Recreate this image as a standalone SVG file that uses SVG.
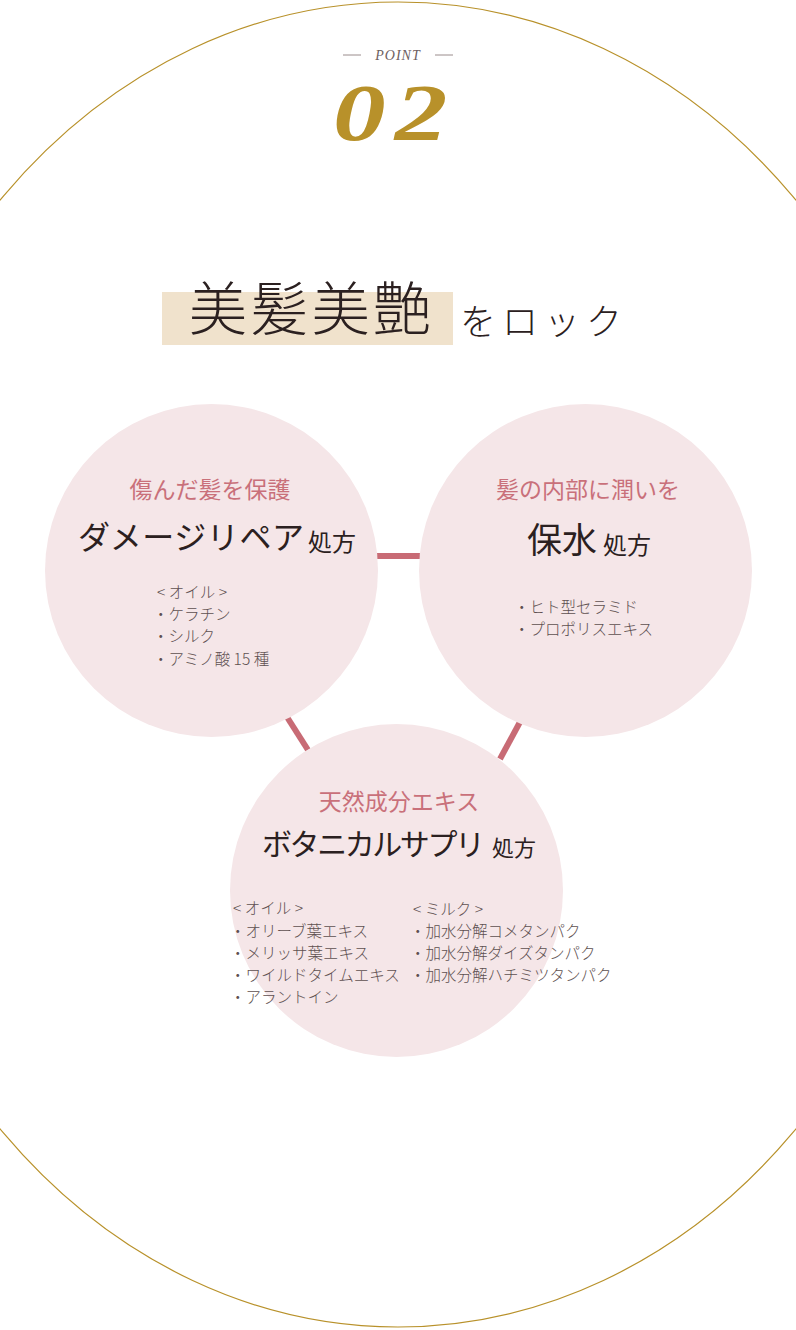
<svg xmlns="http://www.w3.org/2000/svg" width="796" height="1330" viewBox="0 0 796 1330">
<style>
.jp{font-family:"Noto Sans CJK JP","Noto Sans",sans-serif}
.sub{font-size:23px;fill:#c9707a;text-anchor:middle}
.main{fill:#2b2020}
.li{font-size:15.5px;fill:#5e5050;font-weight:300}
.circ{fill:#f5e6e8}
.con{stroke:#c86b75;stroke-width:6;fill:none}
</style>
<rect width="796" height="1330" fill="#ffffff"/>
<g id="frame">
<ellipse cx="398" cy="664.5" rx="558" ry="662.5" fill="none" stroke="#b8912a" stroke-width="1.2"/>
</g>
<g id="header">
<line x1="343" y1="55" x2="361" y2="55" stroke="#9a8c8c" stroke-width="1"/>
<line x1="435" y1="55" x2="453" y2="55" stroke="#9a8c8c" stroke-width="1"/>
<text x="398" y="60" text-anchor="middle" font-family="Liberation Serif,serif" font-style="italic" font-size="14" letter-spacing="1" fill="#6e6060">POINT</text>
<text transform="translate(333 140) scale(1.3 1)" x="0" y="0" font-family="Liberation Serif,serif" font-style="italic" font-weight="bold" font-size="81" letter-spacing="7" fill="#b8912a">02</text>
</g>
<g id="title">
<rect x="162" y="292" width="291" height="53" fill="#f0e2cc"/>
<text x="189" y="330" class="jp" font-size="58" font-weight="300" fill="#2b2020" textLength="242" lengthAdjust="spacing">美髪美艶</text>
<text x="460" y="335" class="jp" font-size="36" font-weight="300" fill="#2b2020" textLength="162" lengthAdjust="spacing">をロック</text>
</g>
<g id="connectors">
<line class="con" x1="376" y1="556" x2="423" y2="556"/>
<line class="con" x1="287" y1="717" x2="308" y2="750"/>
<line class="con" x1="520" y1="722" x2="500" y2="759"/>
</g>
<g id="node-damage">
<circle class="circ" cx="211.5" cy="570.5" r="166.5"/>
<text class="jp sub" x="210" y="498">傷んだ髪を保護</text>
<text class="jp main" x="78" y="549" font-size="32" textLength="226" lengthAdjust="spacing">ダメージリペア</text>
<text class="jp main" x="308" y="551" font-size="24">処方</text>
<text class="jp li" x="157" y="598">&lt;  オイル  &gt;</text>
<text class="jp li" x="153" y="620">・ケラチン</text>
<text class="jp li" x="153" y="642">・シルク</text>
<text class="jp li" x="153" y="665">・アミノ酸 15 種</text>
</g>
<g id="node-moist">
<circle class="circ" cx="585.5" cy="570.5" r="166.5"/>
<text class="jp sub" x="588" y="498">髪の内部に潤いを</text>
<text class="jp main" x="527" y="553" font-size="35">保水</text>
<text class="jp main" x="603" y="554" font-size="24">処方</text>
<text class="jp li" x="514" y="613">・ヒト型セラミド</text>
<text class="jp li" x="514" y="635">・プロポリスエキス</text>
</g>
<g id="node-botanical">
<circle class="circ" cx="396.5" cy="890.5" r="166.5"/>
<text class="jp sub" x="399" y="810">天然成分エキス</text>
<text class="jp main" x="262" y="855" font-size="30" textLength="223" lengthAdjust="spacing">ボタニカルサプリ</text>
<text class="jp main" x="492" y="856" font-size="22">処方</text>
<text class="jp li" x="233" y="914">&lt;  オイル  &gt;</text>
<text class="jp li" x="230" y="937">・オリーブ葉エキス</text>
<text class="jp li" x="230" y="959">・メリッサ葉エキス</text>
<text class="jp li" x="230" y="981">・ワイルドタイムエキス</text>
<text class="jp li" x="230" y="1003">・アラントイン</text>
<text class="jp li" x="413" y="915">&lt;  ミルク  &gt;</text>
<text class="jp li" x="410" y="937">・加水分解コメタンパク</text>
<text class="jp li" x="410" y="959">・加水分解ダイズタンパク</text>
<text class="jp li" x="410" y="981">・加水分解ハチミツタンパク</text>
</g>
</svg>
